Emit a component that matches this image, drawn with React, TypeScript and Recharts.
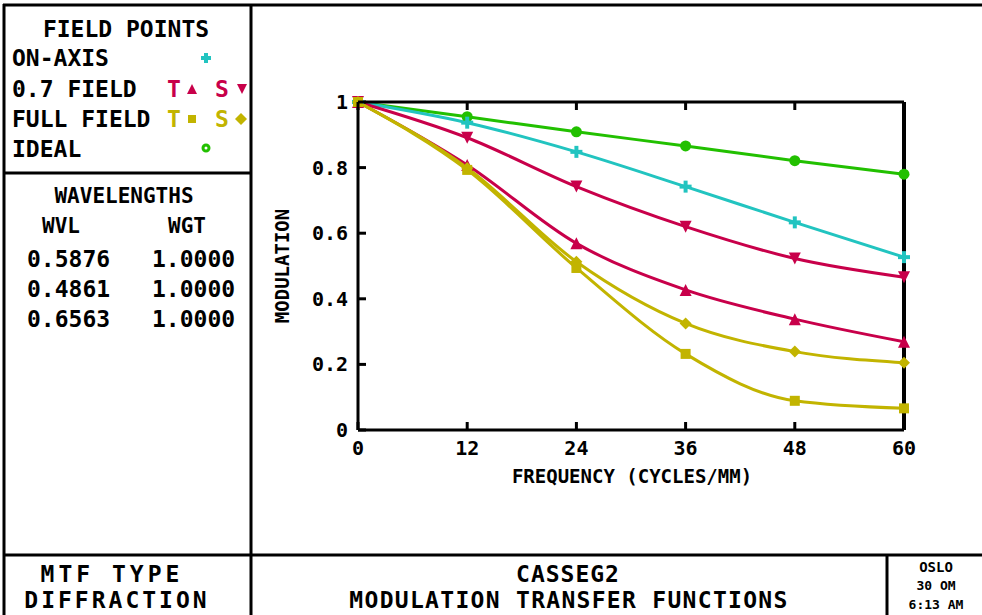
import React from "react";
import { LineChart, Line, XAxis, YAxis } from "recharts";

const frequencies = [0, 12, 24, 36, 48, 60];
const onAxis = [1, 0.937, 0.848, 0.742, 0.633, 0.527];
const field07T = [1, 0.808, 0.569, 0.427, 0.338, 0.269];
const field07S = [1, 0.891, 0.742, 0.62, 0.523, 0.466];
const fullFieldT = [1, 0.793, 0.494, 0.232, 0.089, 0.066];
const fullFieldS = [1, 0.799, 0.513, 0.325, 0.239, 0.205];
const ideal = [1, 0.955, 0.909, 0.866, 0.821, 0.78];

const xTicks = [0, 12, 24, 36, 48, 60];
const yTicks = [0, 0.2, 0.4, 0.6, 0.8, 1];

const wavelengths = ["0.5876", "0.4861", "0.6563"];
const weights = ["1.0000", "1.0000", "1.0000"];

const GREEN = "#22c000";
const CYAN = "#22c4c0";
const RED = "#c8004a";
const YELLOW = "#c2b400";
const FONT = "'DejaVu Sans Mono', monospace";

const data = frequencies.map((f, i) => ({
  f,
  onAxis: onAxis[i],
  t07: field07T[i],
  s07: field07S[i],
  tFull: fullFieldT[i],
  sFull: fullFieldS[i],
  ideal: ideal[i],
}));

type Shape = "plus" | "up" | "down" | "square" | "diamond" | "circle" | "ring";

const marker = (shape: Shape, color: string, cx: number, cy: number, s = 6) => {
  switch (shape) {
    case "plus":
      return (
        <g>
          <line x1={cx - s} x2={cx + s} y1={cy} y2={cy} stroke={color} strokeWidth={4} />
          <line x1={cx} x2={cx} y1={cy - s} y2={cy + s} stroke={color} strokeWidth={4} />
        </g>
      );
    case "up":
      return <polygon points={`${cx},${cy - s} ${cx - s},${cy + s} ${cx + s},${cy + s}`} fill={color} />;
    case "down":
      return <polygon points={`${cx - s},${cy - s} ${cx + s},${cy - s} ${cx},${cy + s}`} fill={color} />;
    case "square":
      return <rect x={cx - s + 1} y={cy - s + 1} width={2 * s - 2} height={2 * s - 2} fill={color} />;
    case "diamond":
      return <polygon points={`${cx},${cy - s} ${cx + s},${cy} ${cx},${cy + s} ${cx - s},${cy}`} fill={color} />;
    case "circle":
      return <circle cx={cx} cy={cy} r={s - 0.5} fill={color} />;
    default:
      return <circle cx={cx} cy={cy} r={s - 1} fill="none" stroke={color} strokeWidth={3} />;
  }
};

const makeDot = (shape: Shape, color: string) => (props: any) => (
  <g key={`${shape}-${props.index}`}>{marker(shape, color, props.cx, props.cy)}</g>
);

const BottomTick = (props: any) => {
  const { x, y, payload } = props;
  return (
    <g>
      <line x1={x} x2={x} y1={y} y2={y - 8} stroke="#000" strokeWidth={3} />
      <text x={x} y={y + 25} textAnchor="middle" fontFamily={FONT} fontWeight="bold" fontSize={20} fill="#000">
        {payload.value}
      </text>
    </g>
  );
};

const TopTick = (props: any) => (
  <line x1={props.x} x2={props.x} y1={props.y} y2={props.y + 8} stroke="#000" strokeWidth={3} />
);

const LeftTick = (props: any) => {
  const { x, y, payload } = props;
  const v = payload.value;
  const label = v === 0 ? "0" : v === 1 ? "1" : v.toFixed(1);
  return (
    <g>
      <line x1={x} x2={x + 8} y1={y} y2={y} stroke="#000" strokeWidth={3} />
      <text x={x - 10} y={y + 7} textAnchor="end" fontFamily={FONT} fontWeight="bold" fontSize={20} fill="#000">
        {label}
      </text>
    </g>
  );
};

const RightTick = (props: any) => (
  <line x1={props.x} x2={props.x - 8} y1={props.y} y2={props.y} stroke="#000" strokeWidth={3} />
);

const T = (p: { x: number; y: number; size?: number; anchor?: string; color?: string; ls?: number; children: React.ReactNode }) => (
  <text
    x={p.x}
    y={p.y}
    textAnchor={(p.anchor as any) || "start"}
    fontFamily={FONT}
    fontWeight="bold"
    fontSize={p.size || 23}
    letterSpacing={p.ls || 0}
    fill={p.color || "#000"}
  >
    {p.children}
  </text>
);

const Frame = () => (
  <svg width={982} height={615} style={{ position: "absolute", left: 0, top: 0, pointerEvents: "none" }}>
    <g stroke="#000" strokeWidth={3}>
      <line x1={3} x2={982} y1={5} y2={5} />
      <line x1={4} x2={4} y1={4} y2={615} />
      <line x1={251} x2={251} y1={4} y2={615} />
      <line x1={3} x2={251} y1={173} y2={173} />
      <line x1={3} x2={982} y1={555} y2={555} />
      <line x1={887} x2={887} y1={555} y2={615} />
    </g>

    <T x={126} y={37} anchor="middle">FIELD POINTS</T>
    <T x={12} y={66}>ON-AXIS</T>
    {marker("plus", CYAN, 206, 58, 5)}
    <T x={12} y={97}>0.7 FIELD</T>
    <T x={167} y={97} color={RED}>T</T>
    {marker("up", RED, 192, 89, 5)}
    <T x={215} y={97} color={RED}>S</T>
    {marker("down", RED, 242, 89, 5)}
    <T x={12} y={127}>FULL FIELD</T>
    <T x={167} y={127} color={YELLOW}>T</T>
    {marker("square", YELLOW, 192, 119, 5)}
    <T x={215} y={127} color={YELLOW}>S</T>
    {marker("diamond", YELLOW, 241, 119, 6)}
    <T x={12} y={157}>IDEAL</T>
    {marker("ring", GREEN, 206, 148, 4)}

    <T x={124} y={203} anchor="middle" size={21}>WAVELENGTHS</T>
    <T x={61} y={233} anchor="middle" size={21}>WVL</T>
    <T x={187} y={233} anchor="middle" size={21}>WGT</T>
    {wavelengths.map((w, i) => (
      <g key={w}>
        <T x={27} y={267 + i * 30} size={23}>{w}</T>
        <T x={152} y={267 + i * 30} size={23}>{weights[i]}</T>
      </g>
    ))}

    <T x={112} y={582} anchor="middle" size={23} ls={4}>MTF TYPE</T>
    <T x={117} y={608} anchor="middle" size={23} ls={3}>DIFFRACTION</T>
    <T x={568} y={582} anchor="middle" size={23} ls={1}>CASSEG2</T>
    <T x={569} y={608} anchor="middle" size={23} ls={1.3}>MODULATION TRANSFER FUNCTIONS</T>
    <T x={936} y={572} anchor="middle" size={14}>OSLO</T>
    <T x={936} y={590} anchor="middle" size={13}>30 OM</T>
    <T x={936} y={609} anchor="middle" size={13}>6:13 AM</T>

    <T x={632} y={483} anchor="middle" size={19}>FREQUENCY (CYCLES/MM)</T>
    <g transform="translate(289,266) rotate(-90)">
      <T x={0} y={0} anchor="middle" size={19}>MODULATION</T>
    </g>
  </svg>
);

export default function App() {
  return (
    <div style={{ position: "absolute", left: 0, top: 0, width: 982, height: 615, background: "#fff" }}>
      <LineChart width={982} height={615} data={data} margin={{ top: 100, right: 68, bottom: 155, left: 298 }}>
        <XAxis
          dataKey="f"
          type="number"
          domain={[0, 60]}
          ticks={xTicks}
          height={30}
          tickSize={0}
          tickMargin={0}
          tickLine={false}
          axisLine={{ stroke: "#000", strokeWidth: 3 }}
          tick={BottomTick}
        />
        <XAxis
          xAxisId="top"
          orientation="top"
          dataKey="f"
          type="number"
          domain={[0, 60]}
          ticks={xTicks}
          height={2}
          tickSize={0}
          tickMargin={0}
          tickLine={false}
          axisLine={{ stroke: "#000", strokeWidth: 3 }}
          tick={TopTick}
        />
        <YAxis
          type="number"
          domain={[0, 1]}
          ticks={yTicks}
          width={60}
          tickSize={0}
          tickMargin={0}
          tickLine={false}
          axisLine={{ stroke: "#000", strokeWidth: 3 }}
          tick={LeftTick}
        />
        <YAxis
          yAxisId="right"
          orientation="right"
          type="number"
          domain={[0, 1]}
          ticks={yTicks}
          width={10}
          tickSize={0}
          tickMargin={0}
          tickLine={false}
          axisLine={{ stroke: "#000", strokeWidth: 4 }}
          tick={RightTick}
        />
        <Line type="monotone" dataKey="ideal" stroke={GREEN} strokeWidth={3} dot={makeDot("circle", GREEN)} isAnimationActive={false} />
        <Line type="monotone" dataKey="onAxis" stroke={CYAN} strokeWidth={3} dot={makeDot("plus", CYAN)} isAnimationActive={false} />
        <Line type="monotone" dataKey="s07" stroke={RED} strokeWidth={3} dot={makeDot("down", RED)} isAnimationActive={false} />
        <Line type="monotone" dataKey="t07" stroke={RED} strokeWidth={3} dot={makeDot("up", RED)} isAnimationActive={false} />
        <Line type="monotone" dataKey="sFull" stroke={YELLOW} strokeWidth={3} dot={makeDot("diamond", YELLOW)} isAnimationActive={false} />
        <Line type="monotone" dataKey="tFull" stroke={YELLOW} strokeWidth={3} dot={makeDot("square", YELLOW)} isAnimationActive={false} />
      </LineChart>
      <Frame />
    </div>
  );
}
